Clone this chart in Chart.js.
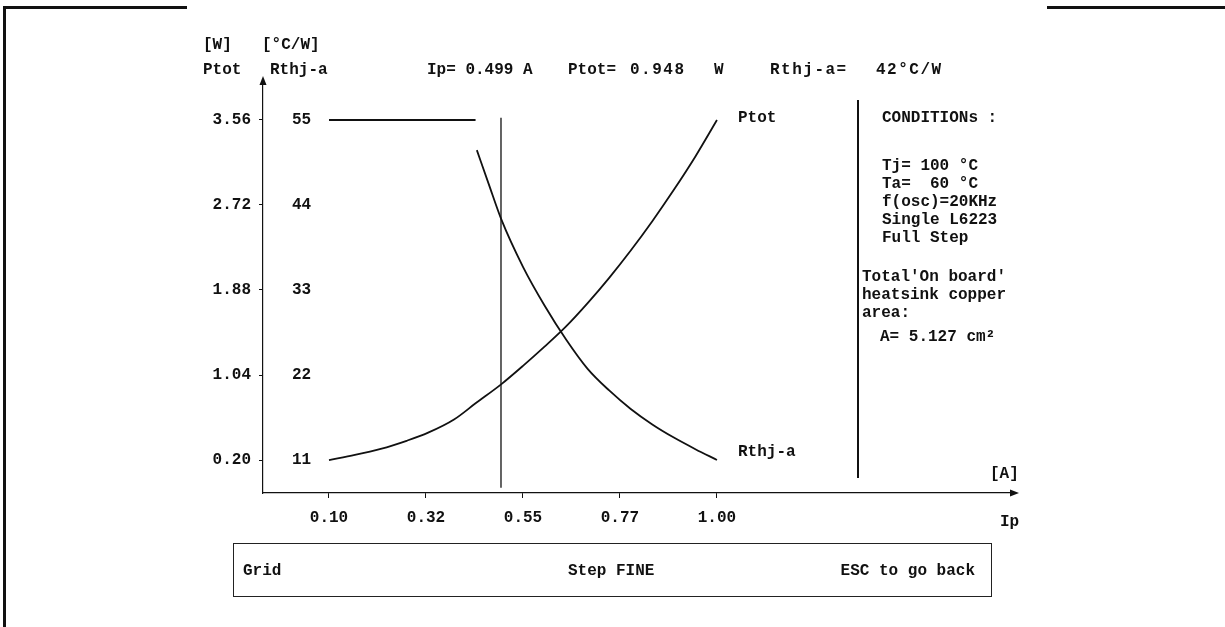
<!DOCTYPE html>
<html lang="en">
<head>
  <meta charset="UTF-8" />
  <title>Ptot / Rthj-a vs Ip</title>
  <script src="https://cdn.jsdelivr.net/npm/chart.js"></script>
  <style>
    body {
      margin: 0;
      padding: 0;
      background: #fff;
      width: 1225px;
      height: 627px;
      overflow: hidden;
      position: relative;
      font-family: 'Liberation Mono', 'DejaVu Sans Mono', monospace;
      font-weight: bold;
      font-size: 16px;
      color: #111;
    }
    #wrap { position: absolute; left: 0; top: 0; width: 1225px; height: 627px; }
    .t {
      position: absolute;
      line-height: 1;
      white-space: pre;
      transform: translateY(-50%);
    }
    .wide { letter-spacing: 1.5px; }
    .rule { position: absolute; background: #111; }
    .box {
      position: absolute;
      left: 233px; top: 543px;
      width: 757px; height: 52px;
      border: 1.5px solid #222;
    }
  </style>
</head>
<body>
  <div id="wrap"><canvas id="chart" width="1225" height="627"></canvas></div>

  <!-- page frame -->
  <div class="rule" style="left:3px;top:6px;width:184px;height:3px"></div>
  <div class="rule" style="left:3px;top:6px;width:3px;height:621px"></div>
  <div class="rule" style="left:1047px;top:6px;width:178px;height:3px"></div>

  <!-- axis titles -->
  <div class="t" style="left:203px;top:45px">[W]</div>
  <div class="t" style="left:262px;top:45px">[°C/W]</div>
  <div class="t" style="left:203px;top:70px">Ptot</div>
  <div class="t" style="left:270px;top:70px">Rthj-a</div>

  <!-- cursor readout -->
  <div class="t" style="left:427px;top:70px">Ip= 0.499 A</div>
  <div class="t" style="left:568px;top:70px">Ptot=</div>
  <div class="t wide" style="left:630px;top:70px">0.948</div>
  <div class="t" style="left:714px;top:70px">W</div>
  <div class="t wide" style="left:770px;top:70px">Rthj-a=</div>
  <div class="t wide" style="left:876px;top:70px">42°C/W</div>

  <!-- curve names -->
  <div class="t" style="left:738px;top:118px">Ptot</div>
  <div class="t" style="left:738px;top:452px">Rthj-a</div>
  <div class="t" style="left:990px;top:474px">[A]</div>
  <div class="t" style="left:1000px;top:522px">Ip</div>

  <!-- conditions panel -->
  <div class="rule" style="left:857px;top:100px;width:1.5px;height:378px"></div>
  <div class="t" style="left:882px;top:118px">CONDITIONs :</div>
  <div class="t" style="left:882px;top:166px">Tj= 100 °C</div>
  <div class="t" style="left:882px;top:184px">Ta=  60 °C</div>
  <div class="t" style="left:882px;top:202px">f(osc)=20KHz</div>
  <div class="t" style="left:882px;top:220px">Single L6223</div>
  <div class="t" style="left:882px;top:238px">Full Step</div>
  <div class="t" style="left:862px;top:277px">Total'On board'</div>
  <div class="t" style="left:862px;top:295px">heatsink copper</div>
  <div class="t" style="left:862px;top:313px">area:</div>
  <div class="t" style="left:880px;top:337px">A= 5.127 cm²</div>

  <!-- key bar -->
  <div class="box"></div>
  <div class="t" style="left:243px;top:571px">Grid</div>
  <div class="t" style="left:568px;top:571px">Step FINE</div>
  <div class="t" style="right:250px;top:571px">ESC to go back</div>

  <script>
    // x axis (Ip, A)
    const xTickValues = [0.10, 0.325, 0.55, 0.775, 1.00];
    const xTickLabels = ['0.10', '0.32', '0.55', '0.77', '1.00'];

    // left axis (Ptot, W) and inner axis (Rthj-a, °C/W)
    const ptotTickValues = [0.20, 1.04, 1.88, 2.72, 3.56];
    const ptotTickLabels = ['0.20', '1.04', '1.88', '2.72', '3.56'];
    const rthTickValues = [11, 22, 33, 44, 55];
    const rthTickLabels = ['11', '22', '33', '44', '55'];

    // Ptot curve
    const ptotIp = [0.10, 0.16, 0.22, 0.28, 0.33, 0.39, 0.44, 0.50, 0.55, 0.60, 0.65, 0.70, 0.75, 0.80, 0.85, 0.90, 0.95, 1.00];
    const ptotValues = [0.20, 0.25, 0.31, 0.39, 0.47, 0.60, 0.76, 0.95, 1.13, 1.32, 1.52, 1.75, 2.00, 2.27, 2.56, 2.87, 3.20, 3.56];

    // Rthj-a curve
    const rthIp = [0.443, 0.47, 0.50, 0.55, 0.60, 0.65, 0.70, 0.75, 0.80, 0.85, 0.90, 0.95, 1.00];
    const rthValues = [51.1, 46.8, 42.1, 36.0, 31.0, 26.6, 22.8, 20.0, 17.6, 15.6, 13.9, 12.4, 11.0];

    // Rthj-a limit segment at low current
    const limitIp = [0.10, 0.44];
    const limitValues = [55, 55];

    // cursor
    const cursorIp = 0.499;
    const cursorRange = [55.3, 7.4];

    const font = { family: "'Liberation Mono', 'DejaVu Sans Mono', monospace", size: 16, weight: 'bold' };
    const ink = '#111';

    const toPoints = (xs, ys) => xs.map((x, i) => ({ x, y: ys[i] }));

    const arrows = {
      id: 'arrows',
      afterDraw(chart) {
        const { ctx, chartArea: a } = chart;
        ctx.save();
        ctx.fillStyle = ink;
        // y axis arrow
        ctx.beginPath();
        ctx.moveTo(a.left, a.top - 4);
        ctx.lineTo(a.left - 3.5, a.top + 5);
        ctx.lineTo(a.left + 3.5, a.top + 5);
        ctx.closePath();
        ctx.fill();
        // x axis arrow
        ctx.beginPath();
        ctx.moveTo(a.right + 4, a.bottom);
        ctx.lineTo(a.right - 5, a.bottom - 3.5);
        ctx.lineTo(a.right - 5, a.bottom + 3.5);
        ctx.closePath();
        ctx.fill();
        ctx.restore();
      }
    };

    const lineStyle = {
      borderColor: ink,
      borderWidth: 1.8,
      pointRadius: 0,
      fill: false,
      cubicInterpolationMode: 'monotone'
    };

    new Chart(document.getElementById('chart'), {
      type: 'line',
      data: {
        datasets: [
          Object.assign({ label: 'Ptot', data: toPoints(ptotIp, ptotValues), yAxisID: 'yP' }, lineStyle),
          Object.assign({ label: 'Rthj-a', data: toPoints(rthIp, rthValues), yAxisID: 'yR' }, lineStyle),
          Object.assign({ label: 'limit', data: toPoints(limitIp, limitValues), yAxisID: 'yR' }, lineStyle),
          Object.assign({}, lineStyle, {
            label: 'cursor',
            data: [{ x: cursorIp, y: cursorRange[0] }, { x: cursorIp, y: cursorRange[1] }],
            yAxisID: 'yR',
            borderWidth: 1.3
          })
        ]
      },
      options: {
        responsive: false,
        animation: false,
        layout: { padding: { left: 203, right: 210, top: 80, bottom: 94 } },
        plugins: {
          legend: { display: false },
          tooltip: { enabled: false }
        },
        scales: {
          x: {
            type: 'linear',
            min: -0.0531,
            max: 1.6914,
            afterBuildTicks: s => { s.ticks = xTickValues.map(v => ({ value: v })); },
            afterFit: s => { s.height = 40; },
            ticks: {
              callback: (v, i) => xTickLabels[i],
              font, color: ink, padding: 10, maxRotation: 0, autoSkip: false
            },
            grid: { drawOnChartArea: false, tickLength: 5, color: ink },
            border: { color: ink, width: 1.2 }
          },
          yP: {
            type: 'linear',
            position: 'left',
            weight: 1,
            min: -0.126,
            max: 3.955,
            afterBuildTicks: s => { s.ticks = ptotTickValues.map(v => ({ value: v })); },
            afterFit: s => { s.width = 60; },
            ticks: {
              callback: (v, i) => ptotTickLabels[i],
              font, color: ink, padding: 8, autoSkip: false
            },
            grid: { drawOnChartArea: false, tickLength: 4, color: ink },
            border: { color: ink, width: 1.2 }
          },
          yR: {
            type: 'linear',
            position: 'left',
            weight: 0,
            min: 6.729,
            max: 60.18,
            afterBuildTicks: s => { s.ticks = rthTickValues.map(v => ({ value: v })); },
            afterFit: s => { s.width = 0; },
            ticks: {
              callback: (v, i) => rthTickLabels[i],
              mirror: true,
              font, color: ink, padding: 29, autoSkip: false
            },
            grid: { display: false, drawTicks: false },
            border: { display: false }
          }
        }
      },
      plugins: [arrows]
    });
  </script>
</body>
</html>
